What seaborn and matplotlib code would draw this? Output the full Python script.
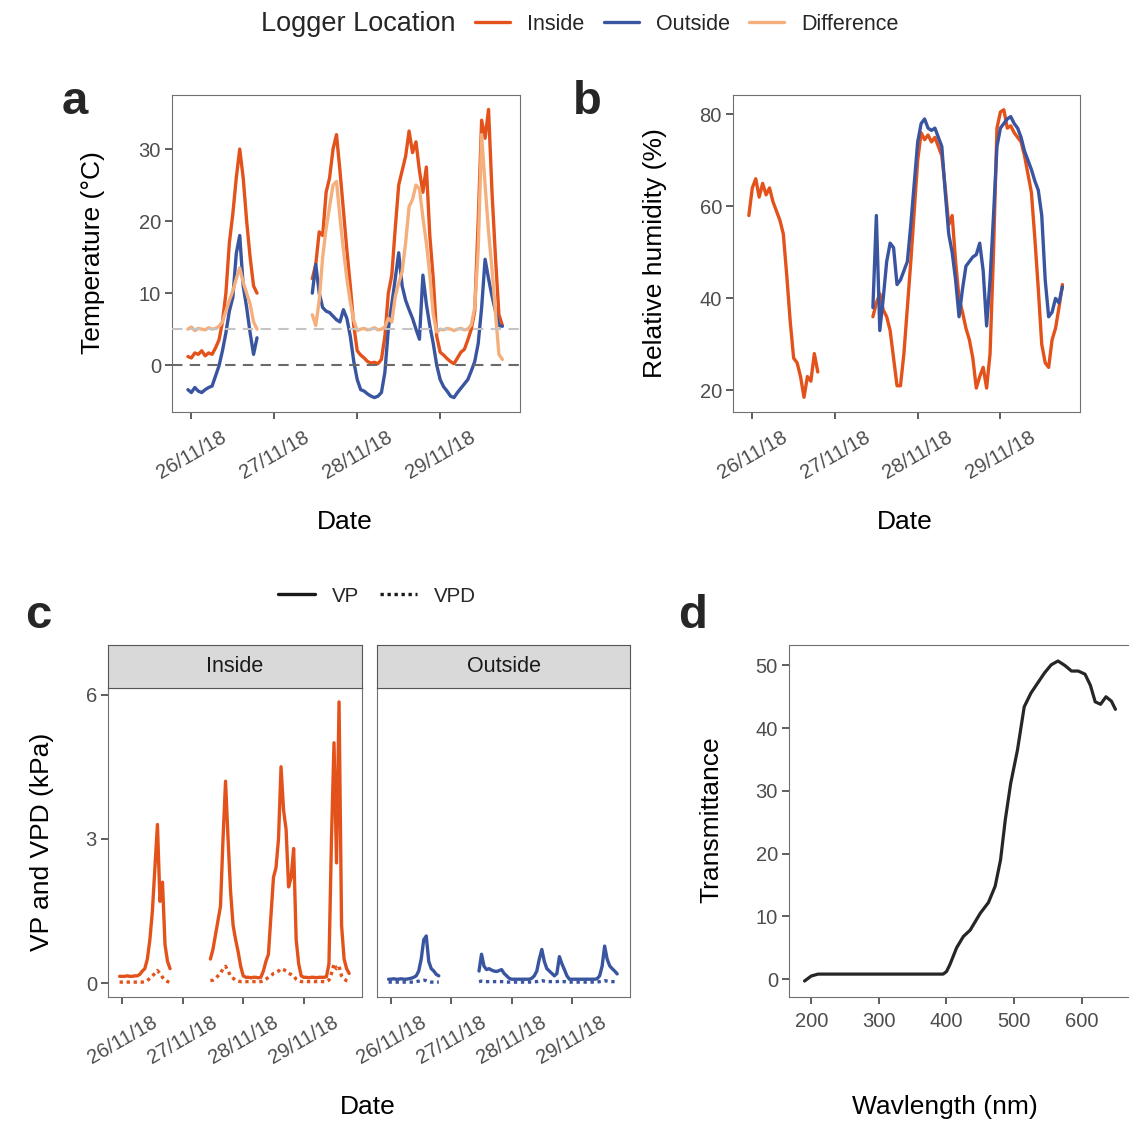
import pandas as pd
import matplotlib
matplotlib.use("Agg")
import matplotlib.pyplot as plt
import matplotlib.dates as mdates
from matplotlib.lines import Line2D
import seaborn as sns

# ---- data ----
# logger readings, hours after 26/11/18 00:00, two recording blocks
hours_1 = list(range(-1, 20))
hours_2 = list(range(35, 91))

temp_inside_1 = [1.2, 1.0, 1.7, 1.5, 2.0, 1.3, 1.7, 1.5, 2.4, 3.5, 6.0, 10.0, 17.0,
                 21.0, 26.0, 30.0, 26.0, 20.0, 15.0, 11.0, 10.0]
temp_inside_2 = [12, 14, 18.5, 18, 24, 26, 30, 32, 27, 21.5,
                 16, 11, 5.5, 2.0, 1.4, 1.0, 0.5, 0.3, 0.4, 0.2,
                 0.8, 4, 10, 12.5, 19, 25, 27, 29, 32.5, 29.5,
                 31, 27, 24, 27.5, 18, 12, 4, 1.8, 1.4, 0.9,
                 0.5, 0.2, 1.0, 1.8, 2.2, 3.5, 5, 7.5, 20, 34,
                 31.5, 35.5, 24, 15, 7, 5.5]
temp_outside_1 = [-3.4, -3.8, -3.1, -3.6, -3.8, -3.4, -3.1, -2.9, -1.5, -0.1, 2.0,
                  4.5, 7.5, 9.4, 15.5, 18.0, 11.0, 8.0, 4.5, 1.5, 3.8]
temp_outside_2 = [10, 14, 10, 8, 7.5, 7.3, 6.8, 6.3, 6.0, 7.7,
                  6.5, 4, 0.5, -2, -3.4, -3.6, -4.0, -4.3, -4.5, -4.3,
                  -3.8, -1, 5, 8.5, 12, 15.6, 11, 9, 7.7, 6.5,
                  5, 3.6, 12.5, 8.5, 5.5, 3, 0, -2, -3, -3.6,
                  -4.3, -4.5, -3.8, -3.2, -2.6, -2, -0.8, 0.5, 3, 8,
                  14.7, 12, 9.6, 7.5, 5.5, 5.4]
temp_diff_1 = [5.0, 5.3, 4.8, 5.1, 5.0, 4.9, 5.2, 5.0, 5.1, 5.4, 6.0,
               7.5, 9.0, 10.3, 12.0, 13.5, 11.5, 10.0, 8.5, 6.0, 5.0]
temp_diff_2 = [7, 5.5, 9, 15, 19, 22, 25, 25.5, 20.5, 16,
               12, 8.7, 6.2, 4.8, 5.0, 5.1, 4.9, 5.0, 5.2, 4.9,
               5.0, 5.3, 6.5, 6.0, 9.5, 11.4, 13, 17, 22, 23,
               25, 24.5, 20.5, 17, 12.5, 7, 4.6, 5.0, 4.9, 5.1,
               5.0, 4.8, 5.0, 5.1, 4.9, 5.0, 5.6, 8, 16, 32,
               25, 18.5, 13.3, 7.3, 1.5, 0.8]

rh_inside_1 = [58, 64, 66, 62, 65, 62.5, 64, 61, 59, 57, 54,
               45, 35, 27, 26, 23, 18.5, 23, 22, 28, 24]
rh_inside_2 = [36, 39, 41, 37.5, 36, 33, 27, 21, 21, 28,
               38, 48, 59, 70, 76, 74.5, 75.5, 74, 75, 73,
               71, 64, 56, 58, 48, 40, 37, 33.5, 31, 27,
               20.5, 23, 25, 20.5, 28, 50, 77, 80.5, 81, 77,
               77.5, 76, 75, 74, 71, 67, 63, 53, 42, 30,
               26, 25, 31, 33.5, 38, 43]
rh_outside_2 = [38, 58, 33, 40, 48, 52, 51, 43, 44, 46,
                48, 56, 65, 74, 78, 79, 77, 76.5, 77, 75,
                73, 63, 54, 50, 44, 36, 42, 47, 48, 49,
                49.5, 52, 46, 34, 44, 58, 73, 77, 78, 79,
                79.5, 78, 77, 75, 72, 70, 68, 65.5, 63.5, 58,
                44, 36, 37, 40, 39, 42.5]

vp_inside_1 = [0.14, 0.14, 0.14, 0.15, 0.14, 0.14, 0.15, 0.15, 0.18, 0.25, 0.3,
               0.5, 0.9, 1.5, 2.4, 3.3, 1.7, 2.1, 0.8, 0.45, 0.3]
vp_inside_2 = [0.5, 0.7, 1.0, 1.3, 1.6, 3.0, 4.2, 3.0, 1.9, 1.2,
               0.9, 0.65, 0.35, 0.15, 0.12, 0.12, 0.11, 0.12, 0.12, 0.11,
               0.12, 0.25, 0.45, 0.6, 1.4, 2.2, 2.4, 3.0, 4.5, 3.6,
               3.2, 2.0, 2.2, 2.8, 0.9, 0.4, 0.15, 0.12, 0.12, 0.11,
               0.12, 0.12, 0.11, 0.12, 0.12, 0.12, 0.13, 0.4, 3.0, 5.0,
               2.5, 5.85, 1.2, 0.5, 0.3, 0.2]
vpd_inside_1 = [0.02, 0.02, 0.02, 0.02, 0.02, 0.02, 0.02, 0.02, 0.02, 0.02, 0.03,
                0.05, 0.1, 0.15, 0.2, 0.26, 0.2, 0.12, 0.06, 0.03, 0.02]
vpd_inside_2 = [0.05, 0.06, 0.1, 0.15, 0.2, 0.3, 0.35, 0.25, 0.15, 0.1,
                0.06, 0.04, 0.03, 0.03, 0.03, 0.03, 0.03, 0.03, 0.03, 0.03,
                0.03, 0.05, 0.08, 0.12, 0.15, 0.2, 0.22, 0.25, 0.3, 0.28,
                0.25, 0.2, 0.18, 0.15, 0.08, 0.05, 0.03, 0.03, 0.03, 0.03,
                0.03, 0.03, 0.03, 0.03, 0.03, 0.03, 0.03, 0.06, 0.2, 0.4,
                0.3, 0.35, 0.15, 0.08, 0.05, 0.04]
vp_outside_1 = [0.08, 0.08, 0.09, 0.08, 0.08, 0.09, 0.08, 0.08, 0.09, 0.1, 0.12,
                0.15, 0.25, 0.5, 0.9, 0.98, 0.45, 0.3, 0.25, 0.18, 0.15]
vp_outside_2 = [0.25, 0.6, 0.35, 0.28, 0.3, 0.27, 0.25, 0.24, 0.26, 0.28,
                0.2, 0.15, 0.1, 0.08, 0.08, 0.08, 0.08, 0.08, 0.08, 0.08,
                0.08, 0.1, 0.15, 0.25, 0.5, 0.7, 0.45, 0.3, 0.25, 0.2,
                0.15, 0.2, 0.55, 0.4, 0.28, 0.15, 0.08, 0.08, 0.08, 0.08,
                0.08, 0.08, 0.08, 0.08, 0.08, 0.08, 0.08, 0.09, 0.15, 0.35,
                0.77, 0.5, 0.36, 0.3, 0.25, 0.19]
vpd_outside_1 = [0.02, 0.02, 0.02, 0.02, 0.02, 0.02, 0.02, 0.02, 0.02, 0.02, 0.02,
                 0.03, 0.04, 0.05, 0.06, 0.05, 0.03, 0.02, 0.02, 0.02, 0.02]
vpd_outside_2 = [0.03, 0.04, 0.03, 0.03, 0.03, 0.03, 0.03, 0.03, 0.03, 0.03,
                 0.03, 0.02, 0.02, 0.02, 0.02, 0.02, 0.02, 0.02, 0.02, 0.02,
                 0.02, 0.02, 0.03, 0.03, 0.04, 0.05, 0.04, 0.03, 0.03, 0.03,
                 0.03, 0.03, 0.04, 0.03, 0.03, 0.02, 0.02, 0.02, 0.02, 0.02,
                 0.02, 0.02, 0.02, 0.02, 0.02, 0.02, 0.02, 0.02, 0.03, 0.04,
                 0.05, 0.04, 0.03, 0.03, 0.03, 0.03]

# film transmittance spectrum
wavelength = [190, 200, 210, 250, 300, 350, 395, 400, 405, 415, 425, 435, 450, 462,
              472, 480, 487, 495, 505, 515, 525, 535, 545, 555, 565, 575, 585, 595,
              605, 613, 620, 628, 636, 644, 650]
transmittance = [-0.3, 0.5, 0.8, 0.8, 0.8, 0.8, 0.8, 1.2, 2.3, 5.0, 6.8, 7.8, 10.5, 12.2,
                 14.8, 19.0, 25.4, 31.2, 36.5, 43.4, 45.6, 47.2, 48.8, 50.1, 50.7, 50.0, 49.1, 49.1,
                 48.6, 46.8, 44.2, 43.8, 45.0, 44.3, 43.0]

locations = ["Inside", "Outside", "Difference"]
palette = {"Inside": "#E4521B", "Outside": "#3A55A0", "Difference": "#F4AF7D"}

start = pd.Timestamp("2018-11-26")


def block(hrs, vals, **cols):
    d = pd.DataFrame({"Date": start + pd.to_timedelta(hrs, unit="h"), "value": vals})
    for k, v in cols.items():
        d[k] = v
    return d


temp = pd.concat([
    block(hours_1, temp_inside_1, loc="Inside", seg=1),
    block(hours_2, temp_inside_2, loc="Inside", seg=2),
    block(hours_1, temp_outside_1, loc="Outside", seg=1),
    block(hours_2, temp_outside_2, loc="Outside", seg=2),
    block(hours_1, temp_diff_1, loc="Difference", seg=1),
    block(hours_2, temp_diff_2, loc="Difference", seg=2),
], ignore_index=True)

rh = pd.concat([
    block(hours_1, rh_inside_1, loc="Inside", seg=1),
    block(hours_2, rh_inside_2, loc="Inside", seg=2),
    block(hours_2, rh_outside_2, loc="Outside", seg=2),
], ignore_index=True)

vp = pd.concat([
    block(hours_1, vp_inside_1, loc="Inside", var="VP", seg=1),
    block(hours_2, vp_inside_2, loc="Inside", var="VP", seg=2),
    block(hours_1, vpd_inside_1, loc="Inside", var="VPD", seg=1),
    block(hours_2, vpd_inside_2, loc="Inside", var="VPD", seg=2),
    block(hours_1, vp_outside_1, loc="Outside", var="VP", seg=1),
    block(hours_2, vp_outside_2, loc="Outside", var="VP", seg=2),
    block(hours_1, vpd_outside_1, loc="Outside", var="VPD", seg=1),
    block(hours_2, vpd_outside_2, loc="Outside", var="VPD", seg=2),
], ignore_index=True)

spec = pd.DataFrame({"wavelength": wavelength, "transmittance": transmittance})

# ---- style ----
sns.set_style("ticks", {"axes.edgecolor": "#707070", "axes.linewidth": 1.1})
plt.rcParams["font.family"] = ["Liberation Sans", "DejaVu Sans"]

W, H = 1129, 1122
fig = plt.figure(figsize=(W / 100, H / 100), dpi=100)


def px_axes(left, top, right, bottom):
    return fig.add_axes([left / W, 1 - bottom / H, (right - left) / W, (bottom - top) / H])


def style_ticks(ax):
    ax.tick_params(axis="both", length=5, width=1.1, color="#333333",
                   labelsize=14.5, labelcolor="#4D4D4D", pad=3)
    ax.set_xlabel("")
    ax.set_ylabel("")


xlim = (start + pd.Timedelta(hours=-5.6), start + pd.Timedelta(hours=95.1))


def date_axis(ax):
    ax.set_xlim(xlim)
    ax.xaxis.set_major_locator(mdates.DayLocator())
    ax.xaxis.set_major_formatter(mdates.DateFormatter("%d/%m/%y"))
    ax.tick_params(axis="x", pad=6)
    plt.setp(ax.get_xticklabels(), rotation=30, ha="center")


LW = 2.4

# panel a: temperature
ax_a = px_axes(172, 95, 520, 412)
ax_a.axhline(5, color="#C4C4C4", lw=1.5, dashes=(5, 3.5), zorder=3)
ax_a.axhline(0, color="#6A6A6A", lw=1.5, dashes=(5, 3.5), zorder=3)
sns.lineplot(data=temp, x="Date", y="value", hue="loc", hue_order=locations,
             palette=palette, units="seg", estimator=None, linewidth=LW,
             legend=False, ax=ax_a)
ax_a.set_ylim(-6.5, 37.5)
ax_a.set_yticks([0, 10, 20, 30])
style_ticks(ax_a)
date_axis(ax_a)

# panel b: relative humidity
ax_b = px_axes(733, 95, 1080, 412)
sns.lineplot(data=rh, x="Date", y="value", hue="loc", hue_order=["Inside", "Outside"],
             palette=palette, units="seg", estimator=None, linewidth=LW,
             legend=False, ax=ax_b)
ax_b.set_ylim(15.3, 84.2)
ax_b.set_yticks([20, 40, 60, 80])
style_ticks(ax_b)
date_axis(ax_b)

# panel c: VP / VPD faceted by logger
facets = {"Inside": (108, 362), "Outside": (377, 630)}
for loc, (left, right) in facets.items():
    ax = px_axes(left, 688, right, 997)
    sub = vp[vp["loc"] == loc]
    sns.lineplot(data=sub, x="Date", y="value", style="var", style_order=["VP", "VPD"],
                 dashes={"VP": "", "VPD": (1, 1.1)}, units="seg", estimator=None,
                 color=palette[loc], linewidth=LW, legend=False, ax=ax)
    ax.set_ylim(-0.29, 6.14)
    ax.set_yticks([0, 3, 6])
    style_ticks(ax)
    date_axis(ax)
    if loc == "Outside":
        ax.tick_params(axis="y", left=False, labelleft=False)
    strip = px_axes(left, 645, right, 688)
    strip.set_facecolor("#D9D9D9")
    strip.set_xticks([])
    strip.set_yticks([])
    for s in strip.spines.values():
        s.set_color("#555555")
    strip.text(0.5, 0.5, loc, ha="center", va="center", fontsize=15.5,
               color="#1A1A1A", transform=strip.transAxes)

# panel d: transmittance spectrum
ax_d = px_axes(789, 645, 1131, 997)
sns.lineplot(data=spec, x="wavelength", y="transmittance", color="#262626",
             linewidth=2.3, estimator=None, ax=ax_d)
ax_d.set_xlim(167, 673)
ax_d.set_ylim(-2.85, 53.25)
ax_d.set_xticks([200, 300, 400, 500, 600])
ax_d.set_yticks([0, 10, 20, 30, 40, 50])
style_ticks(ax_d)
ax_d.tick_params(axis="x", pad=6)

# axis titles
title_kw = dict(fontsize=19, color="black", ha="center", va="center")
fig.text(93 / W, 1 - 253 / H, "Temperature (°C)", rotation=90, **title_kw)
fig.text(655 / W, 1 - 253 / H, "Relative humidity (%)", rotation=90, **title_kw)
fig.text(42 / W, 1 - 842 / H, "VP and VPD (kPa)", rotation=90, **title_kw)
fig.text(711 / W, 1 - 820 / H, "Transmittance", rotation=90, **title_kw)
fig.text(345 / W, 1 - 522 / H, "Date", **title_kw)
fig.text(905 / W, 1 - 522 / H, "Date", **title_kw)
fig.text(368 / W, 1 - 1107 / H, "Date", **title_kw)
fig.text(945 / W, 1 - 1107 / H, "Wavlength (nm)", **title_kw)

# panel letters
for letter, x, y in [("a", 75, 114), ("b", 587, 114), ("c", 38, 628), ("d", 693, 628)]:
    fig.text(x / W, 1 - y / H, letter, fontsize=34, fontweight="bold",
             ha="center", va="baseline")

# top legend
fig.text(358 / W, 1 - 24 / H, "Logger Location", fontsize=19.5, ha="center", va="center")
loc_handles = [Line2D([0], [0], color=palette[k], lw=2.4) for k in locations]
fig.legend(loc_handles, locations, loc="center left", bbox_to_anchor=(475 / W, 1 - 24 / H),
           ncol=3, frameon=False, fontsize=15.5, handlelength=1.63, handletextpad=0.8,
           columnspacing=0.88, borderpad=0, borderaxespad=0)

# VP / VPD legend
var_handles = [Line2D([0], [0], color="#1A1A1A", lw=2.4),
               Line2D([0], [0], color="#1A1A1A", lw=2.4, dashes=(1, 1.1))]
fig.legend(var_handles, ["VP", "VPD"], loc="center left", bbox_to_anchor=(278 / W, 1 - 596 / H),
           ncol=2, frameon=False, fontsize=14.8, handlelength=1.8, handletextpad=0.83,
           columnspacing=1.0, borderpad=0, borderaxespad=0)

fig.savefig("out.png", dpi=100)
